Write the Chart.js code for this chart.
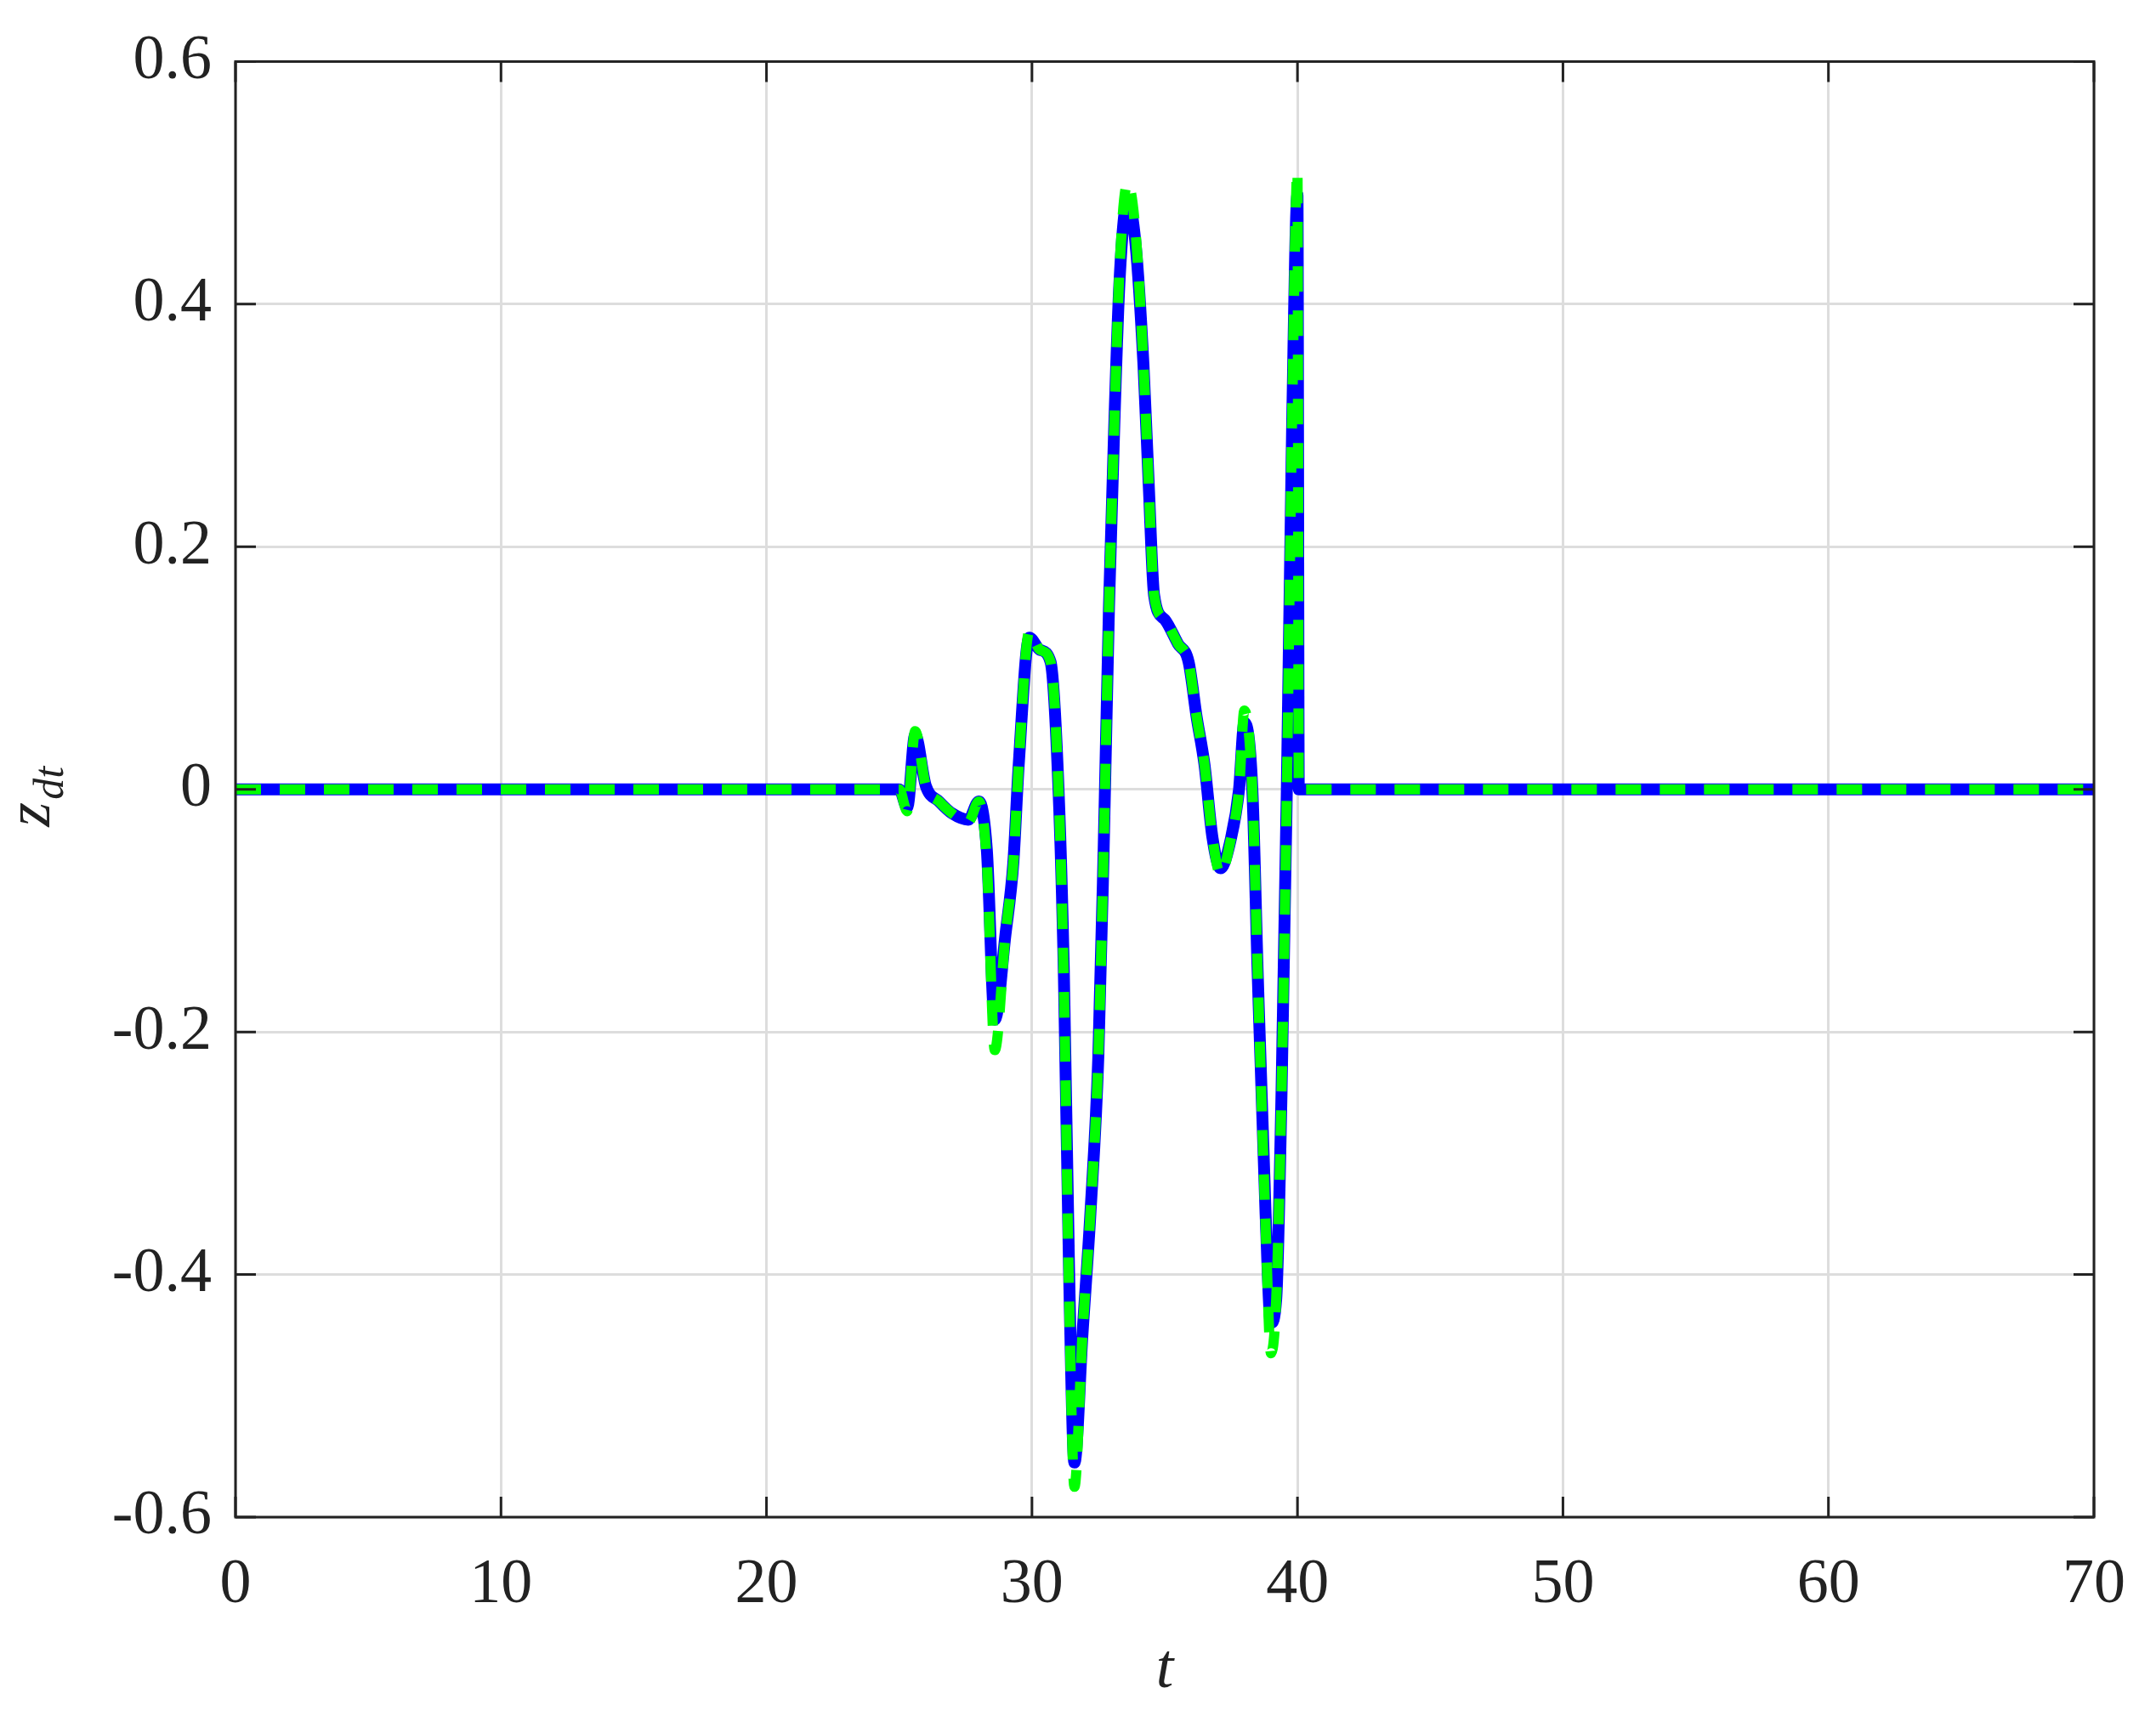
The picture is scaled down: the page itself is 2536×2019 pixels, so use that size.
<!DOCTYPE html>
<html>
<head>
<meta charset="utf-8">
<script src="https://cdn.jsdelivr.net/npm/chart.js@4.4.1/dist/chart.umd.min.js"></script>
<style>
  html, body { margin: 0; padding: 0; background: #fff; }
  #wrap { width: 2536px; height: 2019px; }
</style>
</head>
<body>
<div id="wrap"><canvas id="chart"></canvas></div>
<script>
// datos
const tiempos = [0, 25, 25.3, 25.6, 26, 26.5, 27, 27.6, 28, 28.3, 28.6, 29, 29.3, 29.5, 29.9, 30.3, 30.7, 31.0, 31.2, 31.4, 31.6, 31.9, 32.2, 32.5, 32.7, 32.9, 33.1, 33.3, 33.6, 33.9, 34.2, 34.4, 34.6, 35.0, 35.5, 35.9, 36.2, 36.5, 36.8, 37.1, 37.5, 37.8, 38.0, 38.3, 38.5, 38.8, 39.0, 39.2, 39.4, 39.6, 39.8, 40.0, 40.05, 70];
const zAzul = [0, 0, -0.015, 0.045, 0.003, -0.01, -0.02, -0.025, -0.01, -0.05, -0.19, -0.12, -0.06, 0.02, 0.125, 0.115, 0.105, 0.0, -0.15, -0.4, -0.555, -0.45, -0.35, -0.22, -0.05, 0.15, 0.3, 0.42, 0.485, 0.45, 0.35, 0.25, 0.16, 0.14, 0.12, 0.105, 0.06, 0.02, -0.04, -0.065, -0.04, 0.0, 0.055, 0.0, -0.15, -0.35, -0.44, -0.42, -0.25, 0.0, 0.3, 0.49, 0.0, 0];
const zVerde = [0, 0, -0.018, 0.048, 0.003, -0.01, -0.02, -0.027, -0.01, -0.06, -0.215, -0.12, -0.06, 0.02, 0.13, 0.115, 0.105, 0.0, -0.16, -0.42, -0.575, -0.45, -0.35, -0.22, -0.05, 0.15, 0.3, 0.43, 0.5, 0.46, 0.35, 0.25, 0.16, 0.14, 0.12, 0.105, 0.06, 0.02, -0.04, -0.07, -0.04, 0.0, 0.065, 0.0, -0.15, -0.36, -0.465, -0.42, -0.25, 0.0, 0.31, 0.51, 0.0, 0];
const ticksX = [0, 10, 20, 30, 40, 50, 60, 70];
const ticksY = [-0.6, -0.4, -0.2, 0, 0.2, 0.4, 0.6];

const FUENTE = "'Liberation Serif', 'DejaVu Serif', serif";

// ticks hacia dentro, marco y etiquetas de ejes
const marcoPlugin = {
    id: "marco",
    afterDraw(chart) {
        const { ctx, chartArea: a, scales } = chart;
        ctx.save();
        ctx.strokeStyle = "#222";
        ctx.lineWidth = 3;
        ctx.strokeRect(a.left, a.top, a.right - a.left, a.bottom - a.top);
        const L = 24;
        ctx.beginPath();
        ticksX.forEach(v => {
            const x = scales.x.getPixelForValue(v);
            ctx.moveTo(x, a.bottom); ctx.lineTo(x, a.bottom - L);
            ctx.moveTo(x, a.top); ctx.lineTo(x, a.top + L);
        });
        ticksY.forEach(v => {
            const y = scales.y.getPixelForValue(v);
            ctx.moveTo(a.left, y); ctx.lineTo(a.left + L, y);
            ctx.moveTo(a.right, y); ctx.lineTo(a.right - L, y);
        });
        ctx.stroke();

        ctx.fillStyle = "#222";
        ctx.font = "italic 74px " + FUENTE;
        ctx.textAlign = "center";
        ctx.textBaseline = "alphabetic";
        ctx.fillText("t", (a.left + a.right) / 2, 1985);

        ctx.translate(58, (a.top + a.bottom) / 2);
        ctx.rotate(-Math.PI / 2);
        ctx.textAlign = "left";
        ctx.font = "italic 74px " + FUENTE;
        ctx.fillText("z", -44, 0);
        ctx.font = "italic 50px " + FUENTE;
        ctx.fillText("dt", -12, 16);
        ctx.restore();
    }
};

new Chart(document.getElementById("chart"), {
    type: "line",
    data: {
        datasets: [
            {
                data: tiempos.map((t, i) => ({ x: t, y: zAzul[i] })),
                borderColor: "#0000ff",
                borderWidth: 14,
                pointRadius: 0,
                order: 2,
                cubicInterpolationMode: "monotone"
            },
            {
                data: tiempos.map((t, i) => ({ x: t, y: zVerde[i] })),
                borderColor: "#00ff00",
                borderWidth: 12,
                borderDash: [30, 22],
                pointRadius: 0,
                order: 1,
                cubicInterpolationMode: "monotone"
            }
        ]
    },
    options: {
        responsive: true,
        maintainAspectRatio: false,
        animation: false,
        layout: { padding: { left: 0, top: 32, right: 41, bottom: 0 } },
        plugins: { legend: { display: false }, tooltip: { enabled: false } },
        scales: {
            x: {
                type: "linear", min: 0, max: 70,
                afterFit: s => { s.height = 234; },
                afterBuildTicks: s => { s.ticks = ticksX.map(v => ({ value: v })); },
                grid: { color: "#dddddd", lineWidth: 3, drawTicks: false },
                border: { display: false },
                ticks: { color: "#222", padding: 36, font: { family: FUENTE, size: 74 } }
            },
            y: {
                min: -0.6, max: 0.6,
                afterFit: s => { s.width = 277; },
                afterBuildTicks: s => { s.ticks = ticksY.map(v => ({ value: v })); },
                grid: { color: "#dddddd", lineWidth: 3, drawTicks: false },
                border: { display: false },
                ticks: {
                    color: "#222", padding: 28, font: { family: FUENTE, size: 74 },
                    callback: v => (Math.abs(v) < 1e-9 ? "0" : v.toFixed(1))
                }
            }
        }
    },
    plugins: [marcoPlugin]
});
</script>
</body>
</html>
